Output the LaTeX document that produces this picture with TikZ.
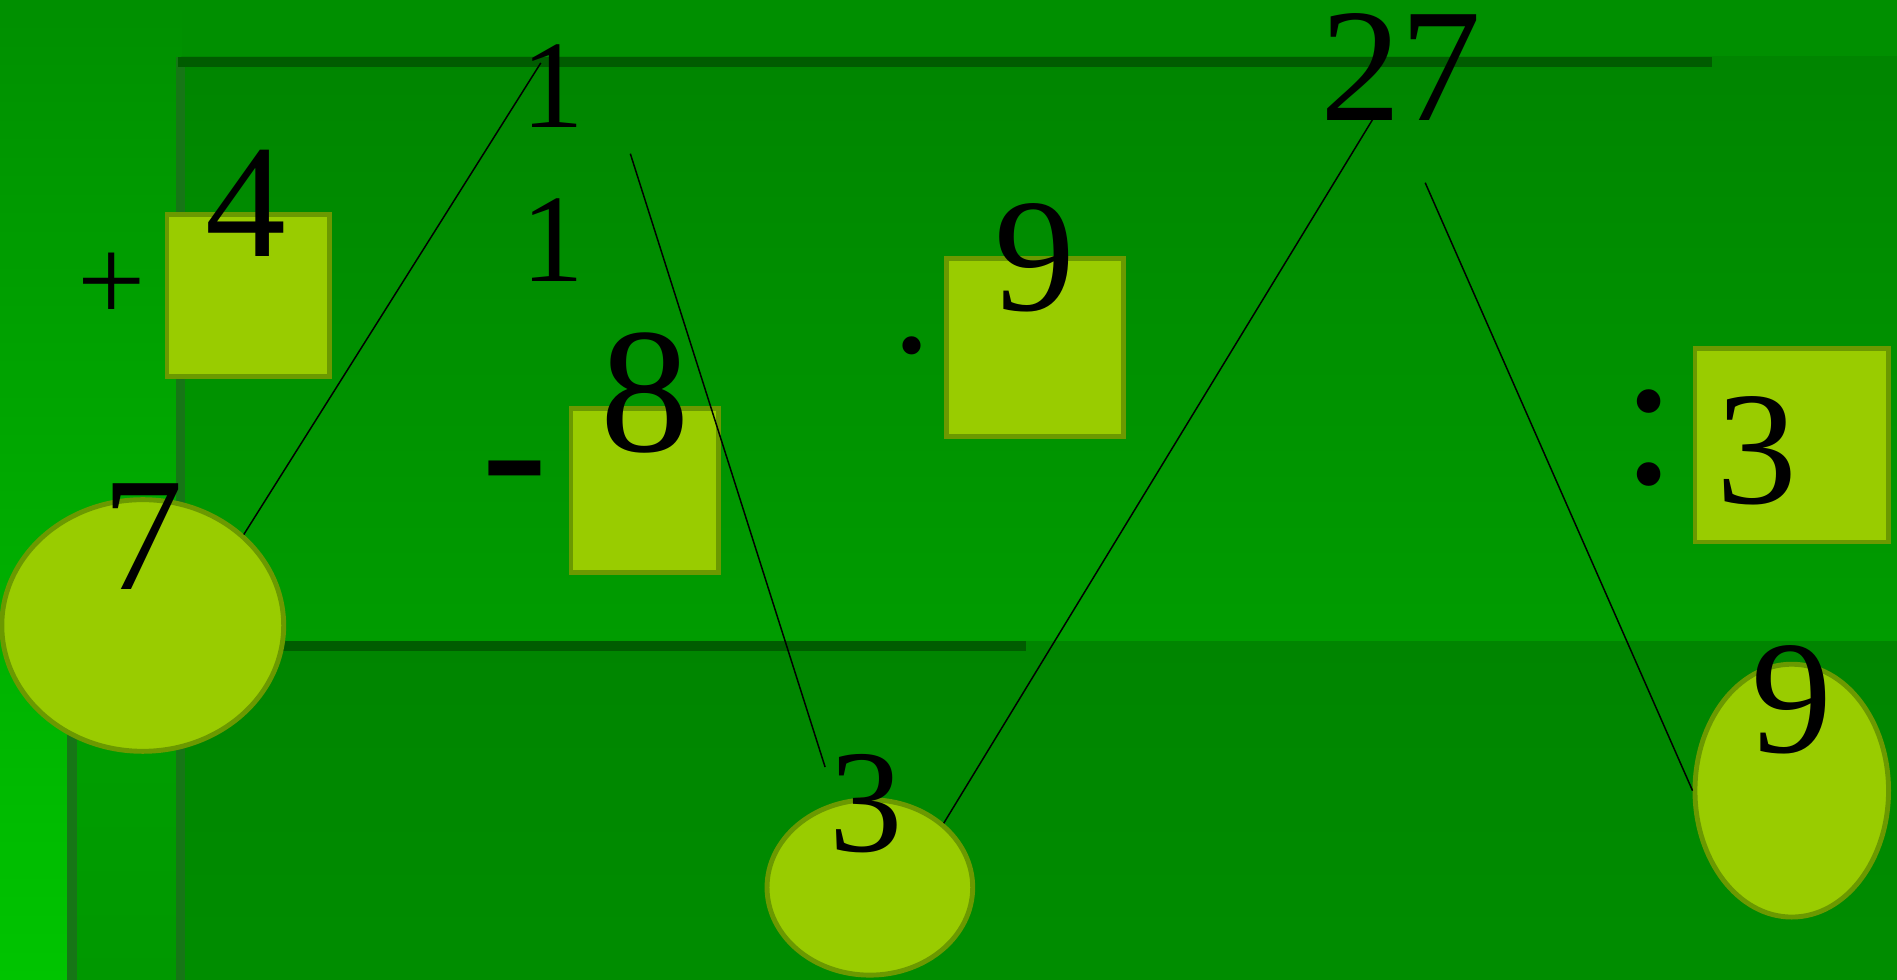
\documentclass[tikz,border=0pt]{standalone}
\usepackage{fontspec}
\setmainfont{Liberation Serif}
\usetikzlibrary{shapes.geometric}
\definecolor{verdesfondo}{RGB}{0,143,0}
\definecolor{verdealto}{RGB}{0,133,0}
\definecolor{verdebasso}{RGB}{0,156,0}
\definecolor{verdefondo}{RGB}{0,141,0}
\definecolor{verdesin}{RGB}{0,160,0}
\definecolor{verdeacceso}{RGB}{0,196,0}
\definecolor{lineascura}{RGB}{0,92,0}
\definecolor{lineamedia}{RGB}{22,118,22}
\definecolor{giallo}{RGB}{153,204,0}
\definecolor{oliva}{RGB}{107,153,0}
\begin{document}
\begin{tikzpicture}[
    casella/.style={rectangle, draw=oliva, fill=giallo, line width=1.15pt, inner sep=0pt},
    ovale/.style={ellipse, draw=oliva, fill=giallo, line width=1.15pt, inner sep=0pt},
    numero/.style={inner sep=0pt, anchor=base, font=\fontsize{38}{40}\selectfont},
    segno/.style={inner sep=0pt, anchor=base},
    filo/.style={line width=0.35pt}
]
    \useasboundingbox (0,0) rectangle (15.68,8.10);
    %sfondo
    \fill[verdesfondo] (0,0) rectangle (15.68,8.10);
    \shade[top color=verdesfondo, bottom color=verdeacceso] (0,0) rectangle (1.50,8.10);
    \shade[top color=verdesin, bottom color=verdesin!95!black] (0.59,0) rectangle (1.50,2.90);
    \shade[top color=verdealto, bottom color=verdebasso] (1.50,2.80) rectangle (15.68,7.63);
    \shade[top color=verdealto, bottom color=verdefondo] (1.50,0) rectangle (15.68,2.80);
    %linee di fondo
    \fill[lineamedia] (1.455,0) rectangle (1.53,7.63);
    \fill[lineamedia] (0.555,0) rectangle (0.637,2.90);
    \fill[lineascura] (1.47,7.55) rectangle (14.15,7.63);
    \fill[lineascura] (1.50,2.72) rectangle (8.48,2.80);
    %caselle
    \node (q1) at (2.05,5.66)[casella, minimum width=1.34cm, minimum height=1.34cm]{};
    \node (q2) at (5.33,4.045)[casella, minimum width=1.22cm, minimum height=1.35cm]{};
    \node (q3) at (8.555,5.225)[casella, minimum width=1.47cm, minimum height=1.47cm]{};
    \node (q4) at (14.81,4.42)[casella, minimum width=1.60cm, minimum height=1.60cm]{};
    %ovali
    \node (o1) at (1.18,2.93)[ovale, minimum width=2.33cm, minimum height=2.08cm]{};
    \node (o2) at (7.19,0.765)[ovale, minimum width=1.70cm, minimum height=1.45cm]{};
    \node (o3) at (14.81,1.565)[ovale, minimum width=1.60cm, minimum height=2.09cm]{};
    %numeri
    \node (n4) at (2.03,5.98)[numero]{4};
    \node (n1a) at (4.57,7.05)[numero, font=\fontsize{29.5}{31}\selectfont]{1};
    \node (n1b) at (4.57,5.77)[numero, font=\fontsize{29.5}{31}\selectfont]{1};
    \node (n8) at (5.33,4.37)[numero, font=\fontsize{42}{44}\selectfont]{8};
    \node (n9a) at (8.55,5.53)[numero]{9};
    \node (n27) at (11.58,7.10)[numero]{27};
    \node (n3a) at (14.52,3.94)[numero]{3};
    \node (n7) at (1.18,3.23)[numero]{7};
    \node (n3b) at (7.16,1.06)[numero, font=\fontsize{34.5}{36}\selectfont]{3};
    \node (n9b) at (14.81,1.88)[numero]{9};
    %segni
    \node (piu) at (0.92,5.44)[segno, font=\fontsize{28.5}{30}\selectfont]{+};
    \node (meno) at (4.255,3.84)[segno, font=\fontsize{47}{50}\selectfont]{-};
    \node (per) at (7.54,4.82)[segno, font=\fontsize{36}{38}\selectfont]{·};
    \node (diviso) at (13.63,4.10)[segno, font=\fontsize{47}{50}\selectfont]{:};
    %collegamenti
    \coordinate (c1) at (4.47,7.58);
    \coordinate (c2) at (5.21,6.83);
    \coordinate (c3) at (6.82,1.76);
    \coordinate (c4) at (11.35,7.12);
    \coordinate (c5) at (11.78,6.59);
    \draw[filo] (o1.42) -- (c1);
    \draw[filo] (c2) -- (c3);
    \draw[filo] (o2.41) -- (c4);
    \draw[filo] (c5) -- (o3.west);
\end{tikzpicture}
\end{document}
